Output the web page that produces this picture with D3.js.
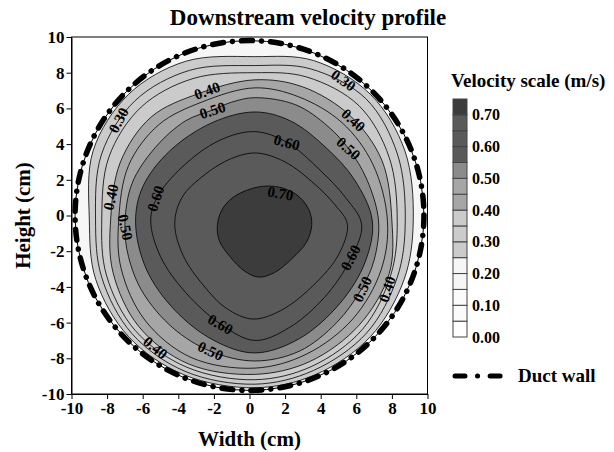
<!DOCTYPE html>
<html lang="en">
<head>
<meta charset="UTF-8">
<title>Downstream velocity profile</title>
<script src="https://d3js.org/d3.v7.min.js"></script>
<style>
  body { margin: 0; background: #fff; }
  svg { display: block; }
  text { font-family: "Liberation Serif", "Times New Roman", serif; font-weight: bold; fill: #000; }
  .axis text { font-size: 17px; }
  .legend-axis text { font-size: 16px; }
  .contour { stroke: #000; stroke-width: 0.8px; }
  .clabel { font-size: 15px; }
</style>
</head>
<body>
<div id="chart"></div>
<script>
// contour levels (m/s) and the rings, in cm
const levels = [0.25, 0.30, 0.35, 0.40, 0.45, 0.50, 0.55, 0.60, 0.65, 0.70];

const c25 = [[9.2,-0.3],[8.73,3.62],[6.79,6.79],[3.6,8.68],[0.3,8.9],[-3.58,8.64],[-6.79,6.79],[-8.78,3.64],[-9.0,-0.2],[-8.64,-3.58],[-6.79,-6.79],[-3.69,-8.92],[0.3,-9.65],[3.69,-8.92],[6.79,-6.79],[8.68,-3.6]];
const c30 = [[8.75,-0.3],[8.31,3.44],[6.54,6.54],[3.41,8.22],[0.3,8.4],[-3.37,8.13],[-6.43,6.43],[-8.31,3.44],[-8.65,-0.2],[-8.31,-3.44],[-6.61,-6.61],[-3.62,-8.73],[0.3,-9.45],[3.6,-8.68],[6.58,-6.58],[8.31,-3.44]];
const c35 = [[8.3,-0.3],[7.85,3.25],[6.15,6.15],[3.21,7.76],[0.3,8.0],[-3.18,7.67],[-6.08,6.08],[-7.9,3.27],[-8.3,-0.2],[-8.04,-3.33],[-6.43,-6.43],[-3.52,-8.5],[0.3,-9.2],[3.5,-8.45],[6.36,-6.36],[7.95,-3.29]];
const c40 = [[8.0,-0.3],[7.44,3.08],[5.62,5.62],[2.98,7.21],[0.3,7.6],[-2.83,6.84],[-5.52,5.52],[-7.25,3.0],[-7.8,-0.2],[-7.67,-3.18],[-6.22,-6.22],[-3.44,-8.31],[0.3,-8.9],[3.39,-8.18],[6.15,-6.15],[7.85,-3.25]];
const c45 = [[7.75,-0.3],[6.93,2.87],[5.2,5.2],[2.76,6.65],[0.3,7.15],[-2.64,6.37],[-5.09,5.09],[-6.79,2.81],[-7.35,-0.3],[-7.21,-2.98],[-5.87,-5.87],[-3.29,-7.95],[0.3,-8.55],[3.21,-7.76],[5.8,-5.8],[7.39,-3.06]];
const c50 = [[0.3,6.6],[2.6,6.2],[4.4,5.0],[5.6,3.7],[6.6,2.0],[7.25,-0.3],[7.0,-2.5],[6.3,-4.1],[4.9,-6.0],[2.8,-7.6],[0.3,-8.15],[-2.2,-7.6],[-4.3,-6.3],[-6.0,-4.3],[-6.8,-2.3],[-7.0,-0.5],[-6.6,1.8],[-5.3,3.8],[-3.6,5.3],[-2.1,5.9],[-1.0,6.35]];
const c55 = [[0.3,5.8],[2.3,5.3],[4.3,3.8],[5.9,2.0],[6.9,-0.3],[6.5,-2.6],[5.1,-4.9],[2.8,-6.9],[0.3,-7.7],[-2.0,-7.0],[-4.2,-5.3],[-5.8,-3.0],[-6.4,-0.4],[-6.0,1.6],[-4.5,3.6],[-2.1,5.2]];
const c60 = [[0.3,4.7],[2.1,4.1],[3.9,2.6],[5.4,1.0],[6.3,-0.5],[5.7,-2.4],[4.2,-4.6],[2.2,-6.3],[0.3,-7.0],[-1.6,-6.1],[-3.6,-4.3],[-5.0,-2.3],[-5.55,-0.3],[-5.2,1.0],[-3.8,2.7],[-1.7,4.2]];
const c65 = [[0.4,3.5],[2.0,3.0],[3.5,1.9],[4.8,0.6],[5.5,-0.5],[5.0,-2.2],[3.6,-3.9],[1.8,-5.3],[0.2,-5.8],[-1.3,-5.2],[-2.6,-3.9],[-3.7,-2.3],[-4.2,-0.5],[-3.8,1.0],[-2.5,2.3],[-1.0,3.2]];
const c70 = [[0.5,1.6],[1.6,1.6],[2.6,1.2],[3.3,0.4],[3.5,-0.5],[3.2,-1.5],[2.4,-2.4],[1.4,-3.2],[0.5,-3.45],[-0.3,-3.1],[-1.1,-2.3],[-1.7,-1.4],[-1.8,-0.5],[-1.5,0.4],[-0.8,1.1]];
const rings = [c25, c30, c35, c40, c45, c50, c55, c60, c65, c70];

// legend bands
const bandLevels = [0.00, 0.05, 0.10, 0.15, 0.20, 0.25, 0.30, 0.35, 0.40, 0.45, 0.50, 0.55, 0.60, 0.65, 0.70];
const bandColors = ["#ffffff", "#fbfbfb", "#fbfbfb", "#f6f6f6", "#f6f6f6", "#cbcbcb", "#cbcbcb", "#cbcbcb",
                    "#a6a6a6", "#a6a6a6", "#8b8b8b", "#5a5a5a", "#5a5a5a", "#5a5a5a", "#3c3c3c"];
const scaleMax = 0.75;
const legendTicks = [0.0, 0.1, 0.2, 0.3, 0.4, 0.5, 0.6, 0.7];

const axisTicks = [-10, -8, -6, -4, -2, 0, 2, 4, 6, 8, 10];
const wallRadius = 9.8;

// contour labels: text, x, y (cm), rotation (deg)
const labelText = ["0.30", "0.40", "0.50", "0.30", "0.40", "0.50", "0.60", "0.70", "0.40", "0.60", "0.50",
                   "0.60", "0.50", "0.40", "0.60", "0.50", "0.40"];
const labelX = [-7.36, -2.38, -2.08, 5.28, 5.84, 5.56, 2.1, 1.74, -7.8, -5.28, -6.97, 5.67, 6.33, 7.73, -1.63, -2.19, -5.28];
const labelY = [5.34, 7.0, 5.9, 7.58, 5.34, 3.76, 4.1, 1.24, 1.03, 0.96, -0.66, -2.36, -4.12, -4.12, -6.09, -7.58, -7.4];
const labelRot = [-62, -20, -18, 35, 42, 42, 15, 10, -78, -72, 78, -62, -65, -72, 30, 25, 40];

const width = 614, height = 452;
const svg = d3.select("#chart").append("svg")
    .attr("width", width)
    .attr("height", height);

const x = d3.scaleLinear().domain([-10, 10]).range([71.5, 427.5]);
const y = d3.scaleLinear().domain([-10, 10]).range([394, 37]);
const fill = d3.scaleThreshold().domain(bandLevels.slice(1)).range(bandColors);

// duct interior (below lowest contour)
svg.append("ellipse")
    .attr("cx", x(0)).attr("cy", y(0))
    .attr("rx", x(wallRadius) - x(0)).attr("ry", y(0) - y(wallRadius))
    .attr("fill", fill(0.2));

const ringLine = d3.line()
    .x(d => x(d[0]))
    .y(d => y(d[1]))
    .curve(d3.curveCatmullRomClosed.alpha(0.5));

svg.append("g").selectAll("path")
    .data(rings)
    .join("path")
    .attr("class", "contour")
    .attr("d", ringLine)
    .attr("fill", (d, i) => fill(levels[i]));

// contour labels
svg.append("g").selectAll("text")
    .data(labelText)
    .join("text")
    .attr("class", "clabel")
    .attr("text-anchor", "middle")
    .attr("dy", "0.35em")
    .attr("transform", (d, i) => `translate(${x(labelX[i])},${y(labelY[i])}) rotate(${labelRot[i]})`)
    .text(d => d);

// duct wall
const wall = svg.append("g");
wall.append("ellipse")
    .attr("cx", x(0)).attr("cy", y(0))
    .attr("rx", x(wallRadius) - x(0)).attr("ry", y(0) - y(wallRadius))
    .attr("fill", "none").attr("stroke", "#000").attr("stroke-width", 1);
wall.append("ellipse")
    .attr("cx", x(0)).attr("cy", y(0))
    .attr("rx", x(wallRadius) - x(0)).attr("ry", y(0) - y(wallRadius))
    .attr("fill", "none").attr("stroke", "#000").attr("stroke-width", 5.5)
    .attr("stroke-linecap", "round")
    .attr("stroke-dasharray", "11 9 0.1 9");

// frame and axes
svg.append("rect")
    .attr("x", x(-10)).attr("y", y(10))
    .attr("width", x(10) - x(-10)).attr("height", y(-10) - y(10))
    .attr("fill", "none").attr("stroke", "#000");

svg.append("g")
    .attr("class", "axis")
    .attr("transform", `translate(0,${y(-10)})`)
    .call(d3.axisBottom(x).tickValues(axisTicks).tickSize(5).tickSizeOuter(0).tickPadding(3).tickFormat(d => String(d)))
    .attr("font-family", null).attr("font-size", null);

svg.append("g")
    .attr("class", "axis")
    .attr("transform", `translate(${x(-10)},0)`)
    .call(d3.axisLeft(y).tickValues(axisTicks).tickSize(5).tickSizeOuter(0).tickPadding(2).tickFormat(d => String(d)))
    .attr("font-family", null).attr("font-size", null);

// titles
svg.append("text")
    .attr("x", 308).attr("y", 25)
    .attr("text-anchor", "middle")
    .style("font-size", "23px")
    .text("Downstream velocity profile");

svg.append("text")
    .attr("x", (x(-10) + x(10)) / 2).attr("y", 446)
    .attr("text-anchor", "middle")
    .style("font-size", "21px")
    .text("Width (cm)");

svg.append("text")
    .attr("transform", `translate(30,${(y(-10) + y(10)) / 2}) rotate(-90)`)
    .attr("text-anchor", "middle")
    .style("font-size", "21px")
    .text("Height (cm)");

// velocity legend
const ly = d3.scaleLinear().domain([0, scaleMax]).range([337, 99]);
const legend = svg.append("g");
legend.append("text")
    .attr("x", 451).attr("y", 87)
    .style("font-size", "19px")
    .text("Velocity scale (m/s)");

legend.selectAll("rect")
    .data(bandLevels)
    .join("rect")
    .attr("x", 453)
    .attr("y", (d, i) => ly(i + 1 < bandLevels.length ? bandLevels[i + 1] : scaleMax))
    .attr("width", 14)
    .attr("height", (d, i) => ly(d) - ly(i + 1 < bandLevels.length ? bandLevels[i + 1] : scaleMax))
    .attr("fill", d => fill(d))
    .attr("stroke", "#444")
    .attr("stroke-width", 1);

legend.append("g")
    .attr("class", "legend-axis")
    .attr("transform", "translate(467,0)")
    .call(d3.axisRight(ly).tickValues(legendTicks).tickSize(0).tickPadding(5).tickFormat(d3.format(".2f")))
    .attr("font-family", null).attr("font-size", null)
    .call(g => g.select(".domain").remove());

// duct wall legend
const wl = svg.append("g");
wl.append("line")
    .attr("x1", 455).attr("x2", 503).attr("y1", 376).attr("y2", 376)
    .attr("stroke", "#000").attr("stroke-width", 5)
    .attr("stroke-linecap", "round")
    .attr("stroke-dasharray", "10 12.5 0.1 12.5");
wl.append("text")
    .attr("x", 518).attr("y", 382)
    .style("font-size", "19px")
    .text("Duct wall");
</script>
</body>
</html>
